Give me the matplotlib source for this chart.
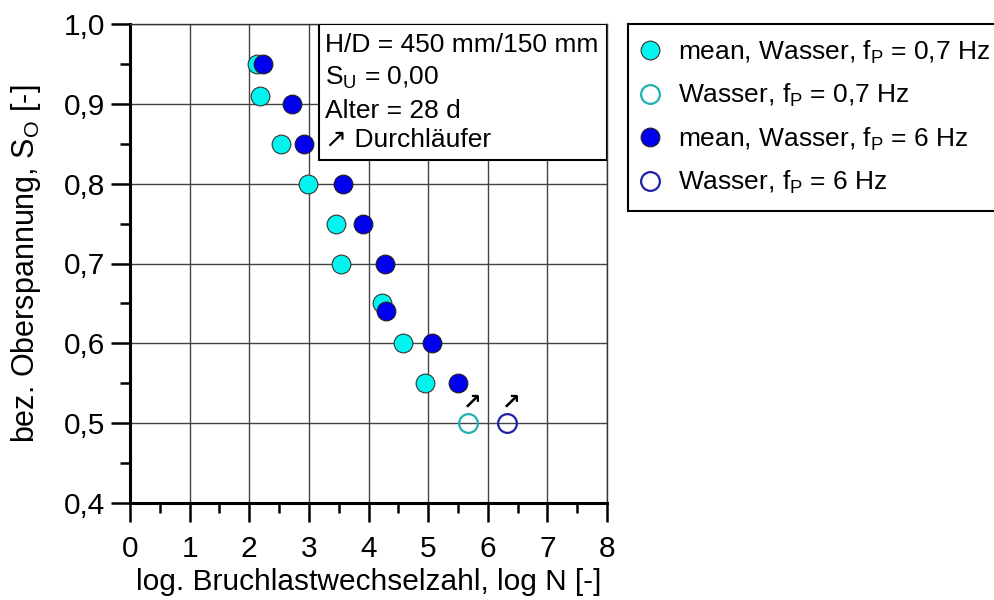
import numpy as np
import matplotlib
matplotlib.use('Agg')
import matplotlib.pyplot as plt
from matplotlib.patches import Rectangle
from matplotlib.ticker import MultipleLocator

plt.rcParams['font.family'] = ['Liberation Sans', 'DejaVu Sans']
plt.rcParams['mathtext.fontset'] = 'custom'
plt.rcParams['mathtext.rm'] = 'Liberation Sans'
plt.rcParams['mathtext.it'] = 'Liberation Sans'

# ---------------------------------------------------------
# Data (log N vs. S_O)
# ---------------------------------------------------------
logn_mean_07 = [2.13, 2.18, 2.53, 2.99, 3.46, 3.54, 4.22, 4.58, 4.95]
so_mean_07 = [0.95, 0.91, 0.85, 0.80, 0.75, 0.70, 0.65, 0.60, 0.55]

logn_run_07 = [5.67]
so_run_07 = [0.50]

logn_mean_6 = [2.23, 2.72, 2.92, 3.57, 3.91, 4.28, 4.30, 5.07, 5.50]
so_mean_6 = [0.95, 0.90, 0.85, 0.80, 0.75, 0.70, 0.64, 0.60, 0.55]

logn_run_6 = [6.33]
so_run_6 = [0.50]

x_ticks = [0, 1, 2, 3, 4, 5, 6, 7, 8]
y_ticks = [0.4, 0.5, 0.6, 0.7, 0.8, 0.9, 1.0]
y_ticklabels = ['0,4', '0,5', '0,6', '0,7', '0,8', '0,9', '1,0']

labels = [
    r'mean, Wasser, f$_\mathrm{P}$ = 0,7 Hz',
    r'Wasser, f$_\mathrm{P}$ = 0,7 Hz',
    r'mean, Wasser, f$_\mathrm{P}$ = 6 Hz',
    r'Wasser, f$_\mathrm{P}$ = 6 Hz',
]
info_lines = ['H/D = 450 mm/150 mm', r'S$_\mathrm{U}$ = 0,00', 'Alter = 28 d', '\u2197 Durchläufer']

FS = 19      # legend / info box
FS_AX = 21.5  # tick labels / axis labels

# ---------------------------------------------------------
# Figure
# ---------------------------------------------------------
fig = plt.figure(figsize=(9.94, 6.0), dpi=100)
ax = fig.add_axes([130 / 994, 1 - 503 / 600, 477 / 994, 479 / 600])

ms = 13.5
ax.plot(logn_mean_07, so_mean_07, 'o', ms=ms, mfc='#00F5F0', mec='#333333', mew=0.8,
        label=labels[0], zorder=3)
ax.plot(logn_run_07, so_run_07, 'o', ms=ms, mfc='none', mec='#22B0B0', mew=1.6,
        label=labels[1], zorder=3)
ax.plot(logn_mean_6, so_mean_6, 'o', ms=ms, mfc='#0000EE', mec='#222222', mew=0.8,
        label=labels[2], zorder=3)
ax.plot(logn_run_6, so_run_6, 'o', ms=ms, mfc='none', mec='#2020A8', mew=1.6,
        label=labels[3], zorder=3)

# run-out arrows
for xr, yr in zip(logn_run_07 + logn_run_6, so_run_07 + so_run_6):
    ax.annotate('\u2197', xy=(xr, yr), xytext=(4, 21), textcoords='offset pixels',
                ha='center', va='center', fontsize=16, fontweight='bold',
                family=['DejaVu Sans'])

ax.set_xlim(0, 8)
ax.set_ylim(0.4, 1.0)
ax.set_xticks(x_ticks)
ax.set_xticklabels([str(v) for v in x_ticks])
ax.set_yticks(y_ticks)
ax.set_yticklabels(y_ticklabels)
ax.xaxis.set_minor_locator(MultipleLocator(0.5))
ax.yaxis.set_minor_locator(MultipleLocator(0.05))

ax.tick_params(which='major', direction='out', length=14, width=1.8, labelsize=FS_AX)
ax.tick_params(axis='x', which='major', pad=9)
ax.tick_params(axis='y', which='major', pad=4)
ax.tick_params(which='minor', direction='out', length=7, width=1.8)
ax.grid(True, which='major', color='#444444', lw=1.0)
ax.set_axisbelow(True)

for side in ['left', 'bottom']:
    ax.spines[side].set_linewidth(2.2)
for side in ['top', 'right']:
    ax.spines[side].set_linewidth(1.0)
    ax.spines[side].set_color('#333333')

ax.set_xlabel('log. Bruchlastwechselzahl, log N [-]', fontsize=FS_AX, labelpad=4)
ax.set_ylabel(r'bez. Oberspannung, S$_\mathrm{O}$ [-]', fontsize=FS_AX + 0.5, labelpad=15)

# info box in upper right of the axes
box_x0 = (319 - 130) / 477
box_y0 = (503 - 160) / 479
ax.add_patch(Rectangle((box_x0, box_y0), 1 - box_x0, 1 - box_y0, transform=ax.transAxes,
                       facecolor='white', edgecolor='black', lw=1.5, zorder=4))
line_y = [45, 78, 111, 140]
for txt, py in zip(info_lines, line_y):
    ax.text((325 - 130) / 477, (503 - py) / 479, txt, transform=ax.transAxes,
            fontsize=FS, ha='left', va='center', zorder=5)

leg = fig.legend(loc='upper left', bbox_to_anchor=(628 / 994, 1 - 24 / 600), fontsize=FS,
                 frameon=True, fancybox=False, framealpha=1, edgecolor='black',
                 borderpad=0.55, labelspacing=0.62, handletextpad=0.75, handlelength=0.6,
                 borderaxespad=0)
leg.get_frame().set_linewidth(1.5)

fig.savefig('out.png', dpi=100)
